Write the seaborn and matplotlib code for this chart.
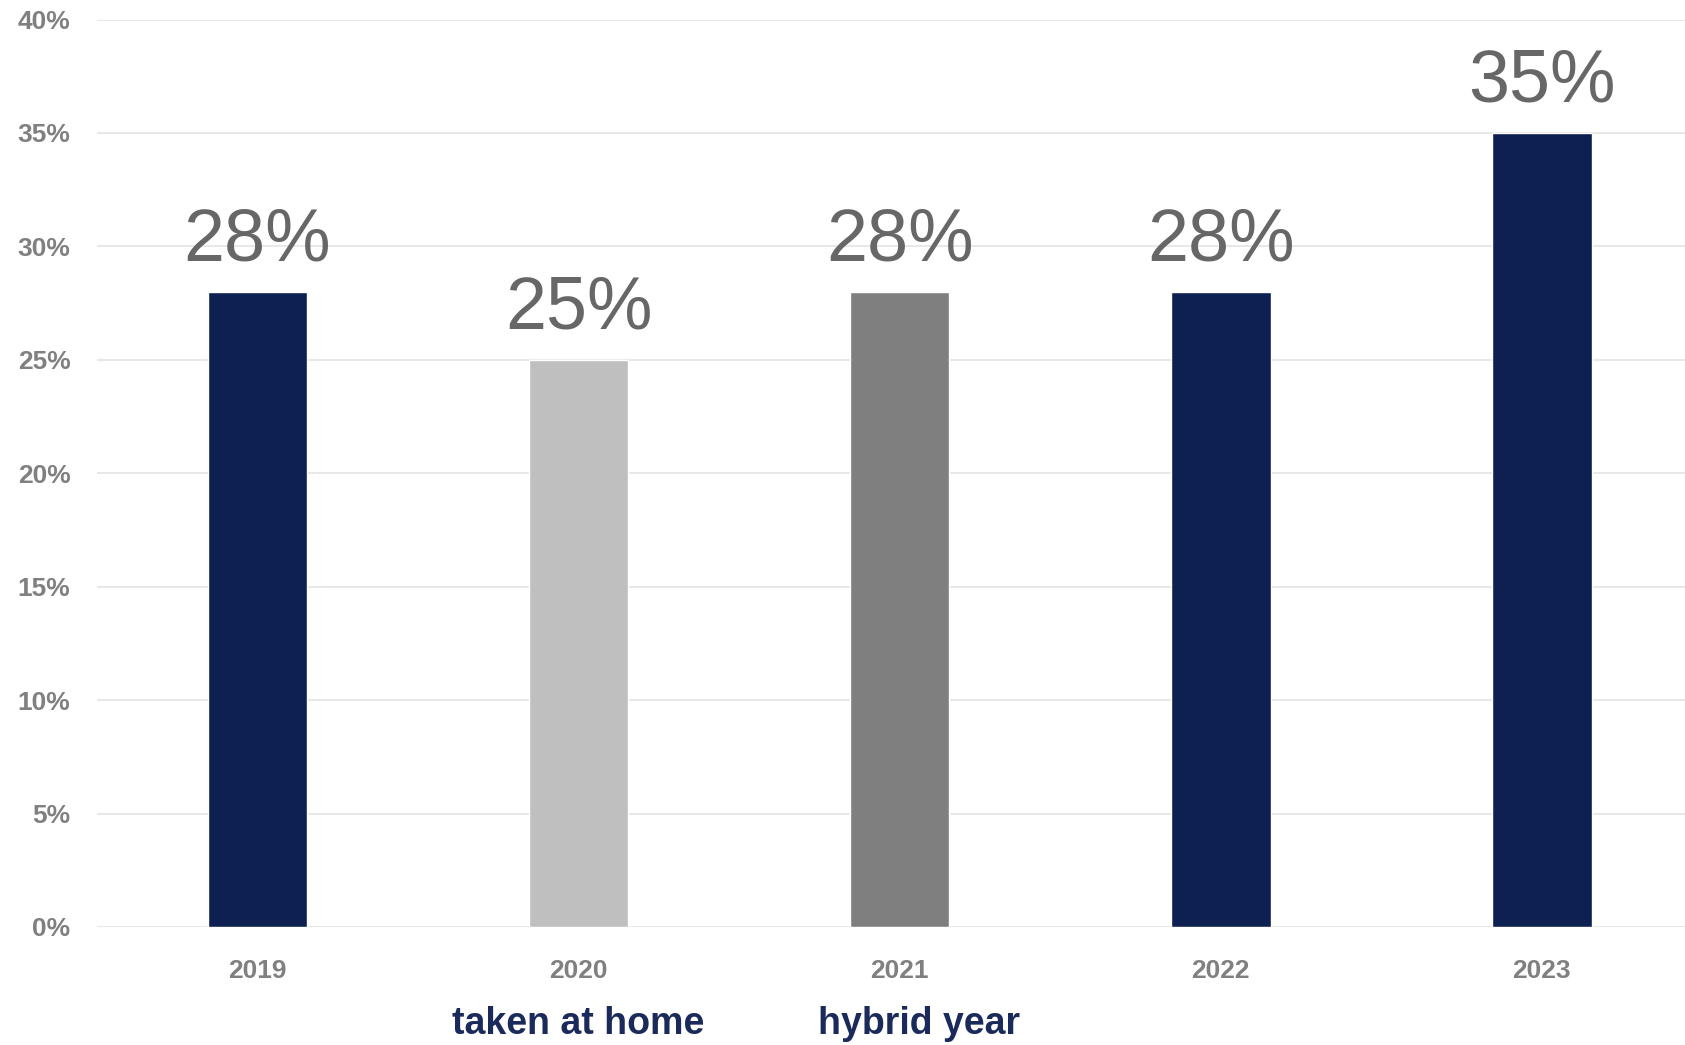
import matplotlib
matplotlib.use('Agg')
import matplotlib.pyplot as plt
import matplotlib.font_manager as fm
from matplotlib.ticker import PercentFormatter
import seaborn as sns

years = ['2019', '2020', '2021', '2022', '2023']
values = [28, 25, 28, 28, 35]
bar_colors = ['#0e1f52', '#bfbfbf', '#7f7f7f', '#0e1f52', '#0e1f52']
notes = ['taken at home', 'hybrid year']
note_pos = [1, 2.06]

sns.set_style('white')
plt.rcParams['font.family'] = ['Liberation Sans', 'DejaVu Sans']

# condensed font for the notes under the axis, if available
names = {f.name for f in fm.fontManager.ttflist}
if 'Liberation Sans Narrow' in names:
    note_font, note_size = 'Liberation Sans Narrow', 33
else:
    note_font, note_size = 'Liberation Sans', 27

fig = plt.figure(figsize=(16.85, 10.45), dpi=100)
ax = fig.add_axes([97 / 1685, 1 - 927 / 1045, 1 - 97 / 1685, (927 - 19.5) / 1045])

sns.barplot(x=years, y=values, hue=years, palette=bar_colors, width=0.31,
            saturation=1, legend=False, ax=ax)

for c in ax.containers:
    ax.bar_label(c, fmt='%d%%', padding=12, fontsize=53, color='#676767')

ax.set_xlim(-0.5, 4.446)
ax.set_ylim(0, 40)
ax.set_yticks(range(0, 41, 5))
ax.yaxis.set_major_formatter(PercentFormatter(decimals=0))
ax.set_axisbelow(True)
ax.yaxis.grid(True, color='#e6e6e6', lw=1.3)
sns.despine(ax=ax, left=True, bottom=True)
ax.tick_params(axis='y', length=0, pad=19, labelsize=19, labelcolor='#808080')
ax.tick_params(axis='x', length=0, pad=23, labelsize=19, labelcolor='#808080')
for lab in ax.get_xticklabels() + ax.get_yticklabels():
    lab.set_fontweight('bold')
ax.set_xlabel('')
ax.set_ylabel('')

for txt, xp in zip(notes, note_pos):
    ax.annotate(txt, xy=(xp, 0), xycoords=('data', 'axes fraction'),
                xytext=(0, -70), textcoords='offset points',
                ha='center', va='center', fontsize=note_size,
                fontweight='bold', family=note_font, color='#1a2a5a',
                annotation_clip=False)

fig.savefig('out.png', dpi=100)
